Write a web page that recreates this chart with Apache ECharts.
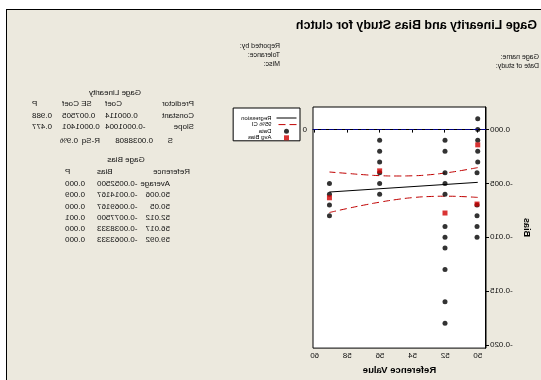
<!DOCTYPE html>
<html><head><meta charset="utf-8">
<script src="https://cdn.jsdelivr.net/npm/echarts@6/dist/echarts.min.js"></script>
<style>
html,body{margin:0;padding:0;background:#fff;}
#wrap{position:relative;width:541px;height:380px;overflow:hidden;transform:scaleX(-1);transform-origin:50% 50%;background:#fff;}
#frame{position:absolute;left:-2px;top:9px;width:535px;height:380px;border:1px solid #000;background:#ECE9DE;}
#chart{position:absolute;left:0;top:0;width:541px;height:380px;}
</style></head><body>
<div id="wrap"><div id="frame"></div><div id="chart"></div></div>
<script>
// ---- data ----
const chartTitle = 'Gage Linearity and Bias Study for clutch';
const infoLeft = ['Gage name:', 'Date of study:'];
const infoRight = ['Reported by:', 'Tolerance:', 'Misc:'];
const linTitle = 'Gage Linearity';
const linHeader = ['Predictor', 'Coef', 'SE Coef', 'P'];
const linRows = [['Constant', '0.000114', '0.007505', '0.988'], ['Slope', '-0.0001004', '0.0001401', '0.477']];
const linFit = ['S', '0.0038808', 'R-Sq', '0.9%'];
const biasTitle = 'Gage Bias';
const biasHeader = ['Reference', 'Bias', 'P'];
const biasRows = [
  ['Average', '-0.0052500', '0.000'],
  ['50.006', '-0.0014167', '0.009'],
  ['50.05', '-0.0069167', '0.000'],
  ['52.012', '-0.0077500', '0.001'],
  ['56.017', '-0.0038333', '0.000'],
  ['59.092', '-0.0063333', '0.000']
];
const refValues = [50.006, 50.05, 52.012, 56.017, 59.092];
const avgBias = [-0.0014167, -0.0069167, -0.0077500, -0.0038333, -0.0063333];
const measuredBias = [
  [0.001, 0.000, -0.001, -0.002, -0.003],
  [-0.004, -0.007, -0.008, -0.009, -0.010],
  [-0.001, -0.002, -0.004, -0.005, -0.006, -0.009, -0.010, -0.011, -0.013, -0.016, -0.018],
  [-0.001, -0.002, -0.003, -0.004, -0.005, -0.006],
  [-0.005, -0.006, -0.007, -0.008]
];
const regX = [50.006, 59.092];
const regY = [-0.0049, -0.0058];
const ciX = [50.006, 51, 52, 53, 54, 55, 56, 57, 58, 59.092];
const ciUpper = [-0.00353, -0.00380, -0.00403, -0.00420, -0.00429, -0.00431, -0.00428, -0.00419, -0.00407, -0.00394];
const ciLower = [-0.00630, -0.00622, -0.00619, -0.00622, -0.00632, -0.00650, -0.00674, -0.00702, -0.00733, -0.00770];
const xTicks = [50, 52, 54, 56, 58, 60];
const yTicks = [0, -0.005, -0.010, -0.015, -0.020];
const zeroRef = 0;

// ---- build ----
const FONT = 'Liberation Sans, Arial, sans-serif';
const pts = [];
refValues.forEach((r, i) => measuredBias[i].forEach(v => pts.push([r, v])));
const avgPts = refValues.map((r, i) => [r, avgBias[i]]);
const regPts = regX.map((x, i) => [x, regY[i]]);
const upPts = ciX.map((x, i) => [x, ciUpper[i]]);
const loPts = ciX.map((x, i) => [x, ciLower[i]]);

function txt(t, x, y, size, align, bold) {
  return { type: 'text', silent: true, style: { text: t, x: x, y: y, fill: '#111',
    font: (bold ? 'bold ' : '') + size + 'px ' + FONT, textAlign: align || 'left', textVerticalAlign: 'middle' } };
}
const g = [];
infoLeft.forEach((t, i) => g.push(txt(t, 2, 57 + i * 9.5, 7)));
infoRight.forEach((t, i) => g.push(txt(t, 261, 46 + i * 9, 7)));
// linearity table
const TS = 8;
g.push(txt(linTitle, 426, 93, TS, 'center'));
const linCols = [[347, 'left'], [436, 'right'], [479, 'right'], [509, 'right']];
linHeader.forEach((t, j) => g.push(txt(t, linCols[j][0], 104, TS, linCols[j][1])));
linRows.forEach((row, i) => row.forEach((t, j) => g.push(txt(t, linCols[j][0], 116 + i * 11, TS, linCols[j][1]))));
const fitCols = [368, 388, 441, 463];
linFit.forEach((t, j) => g.push(txt(t, fitCols[j], 141, TS, 'left')));
// bias table
g.push(txt(biasTitle, 415, 160, TS, 'center'));
const biasCols = [[371, 'left'], [444, 'right'], [476, 'right']];
biasHeader.forEach((t, j) => g.push(txt(t, j === 0 ? 351 : biasCols[j][0], 172, TS, biasCols[j][1])));
biasRows.forEach((row, i) => row.forEach((t, j) => g.push(txt(t, biasCols[j][0], 184 + i * 11.2, TS, biasCols[j][1]))));

const chart = echarts.init(document.getElementById('chart'), null, { renderer: 'canvas' });
chart.setOption({
  animation: false,
  backgroundColor: 'transparent',
  textStyle: { fontFamily: FONT },
  title: { text: chartTitle, left: 4, top: 19, padding: 0,
    textStyle: { fontSize: 12.5, fontWeight: 'bold', color: '#000', fontFamily: FONT } },
  graphic: g,
  legend: {
    orient: 'vertical', left: 241, top: 108, padding: [7, 8, 0, 3],
    backgroundColor: '#fff', borderColor: '#000', borderWidth: 1, borderRadius: 0,
    itemWidth: 20, itemHeight: 5, itemGap: 0.6,
    lineStyle: { width: 1 },
    textStyle: { fontSize: 6, lineHeight: 5, color: '#000', fontFamily: FONT, padding: 0 },
    data: [
      { name: 'Regression', itemStyle: { opacity: 0 } },
      { name: '95% CI', itemStyle: { opacity: 0 } },
      { name: 'Data', icon: 'circle', itemStyle: { color: '#000' } },
      { name: 'Avg Bias', icon: 'path://M0,0h1v1h-1z', itemStyle: { color: '#D00000' } }
    ]
  },
  grid: { left: 55, top: 107, width: 173, height: 243, show: true, backgroundColor: '#fff', borderColor: '#000', borderWidth: 1 },
  xAxis: {
    type: 'value', min: 49.5, max: 60.1,
    name: 'Reference Value', nameLocation: 'middle', nameGap: 16,
    nameTextStyle: { fontSize: 9.5, fontWeight: 'bold', color: '#000', fontFamily: FONT },
    axisLine: { show: true, lineStyle: { color: '#000', width: 1 } },
    axisTick: { show: true, length: 3, lineStyle: { color: '#000' }, customValues: xTicks },
    axisLabel: { fontSize: 8, color: '#111', margin: 4, customValues: xTicks },
    splitLine: { show: false }
  },
  yAxis: {
    type: 'value', min: -0.0203, max: 0.0021,
    name: 'Bias', nameLocation: 'middle', nameGap: 36, nameRotate: 90,
    nameTextStyle: { fontSize: 9, fontWeight: 'bold', color: '#000', fontFamily: FONT },
    axisLine: { show: true, lineStyle: { color: '#000', width: 1 } },
    axisTick: { show: true, length: 3, lineStyle: { color: '#000' }, customValues: yTicks },
    axisLabel: { fontSize: 8, color: '#111', margin: 4, customValues: yTicks, formatter: v => v.toFixed(3) },
    splitLine: { show: false }
  },
  series: [
    { name: 'Regression', type: 'line', data: regPts, symbol: 'none', itemStyle: { color: '#000' }, lineStyle: { color: '#000', width: 1 }, z: 3,
      markLine: { silent: true, symbol: 'none', data: [{ yAxis: zeroRef }],
        lineStyle: { color: '#000080', type: [5, 3], width: 1 },
        label: { show: true, position: 'end', formatter: '0', fontSize: 8, color: '#111', distance: 6 } } },
    { name: '95% CI', type: 'line', data: upPts, smooth: true, symbol: 'none', itemStyle: { color: '#C00000' }, lineStyle: { color: '#C00000', width: 1, type: [7, 4] }, z: 3 },
    { name: '95% CI', type: 'line', data: loPts, smooth: true, symbol: 'none', itemStyle: { color: '#C00000' }, lineStyle: { color: '#C00000', width: 1, type: [7, 4] }, z: 3 },
    { name: 'Data', type: 'scatter', data: pts, symbol: 'circle', symbolSize: 5, itemStyle: { color: '#000' }, z: 4 },
    { name: 'Avg Bias', type: 'scatter', data: avgPts, symbol: 'rect', symbolSize: 5, itemStyle: { color: '#D00000' }, z: 5 }
  ]
});
</script>
</body></html>
